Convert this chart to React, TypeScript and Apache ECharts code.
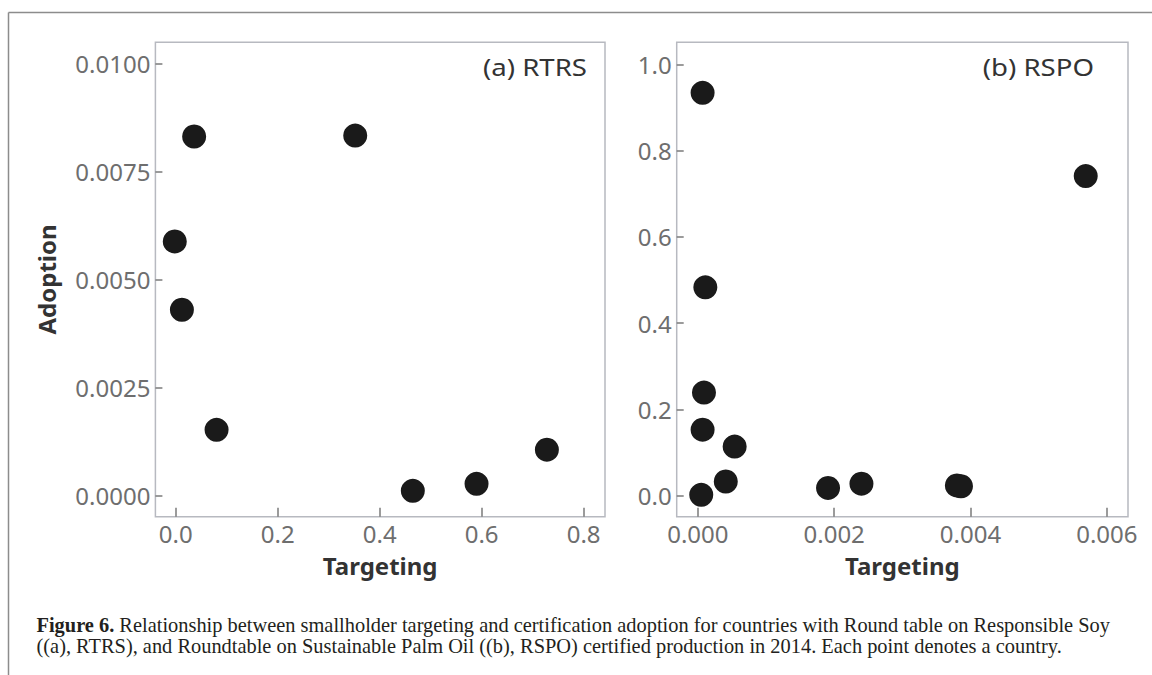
import React, { useEffect, useRef } from "react";
import * as echarts from "echarts";

// ---- data ----
const rtrsTargeting = [0.036, 0.352, -0.002, 0.012, 0.08, 0.465, 0.59, 0.728];
const rtrsAdoption = [0.00832, 0.00834, 0.00589, 0.00431, 0.00153, 0.00012, 0.00028, 0.00107];

const rspoTargeting = [0.00007, 0.00569, 0.00011, 0.00009, 0.00007, 0.00054, 0.00041, 0.00005, 0.00191, 0.0024, 0.0038, 0.00386];
const rspoAdoption = [0.934, 0.741, 0.483, 0.239, 0.153, 0.114, 0.033, 0.002, 0.018, 0.028, 0.024, 0.022];

const rtrsXTicks = [0, 0.2, 0.4, 0.6, 0.8];
const rtrsYTicks = [0, 0.0025, 0.005, 0.0075, 0.01];
const rspoXTicks = [0, 0.002, 0.004, 0.006];
const rspoYTicks = [0, 0.2, 0.4, 0.6, 0.8, 1.0];

const panelTitles = ["(a) RTRS", "(b) RSPO"];
const xName = "Targeting";
const yName = "Adoption";
const captionLine1Bold = "Figure 6.";
const captionLine1 =
  " Relationship between smallholder targeting and certification adoption for countries with Round table on Responsible Soy";
const captionLine2 =
  "((a), RTRS), and Roundtable on Sustainable Palm Oil ((b), RSPO) certified production in 2014. Each point denotes a country.";

const FONT = "'Noto Sans', 'Open Sans', sans-serif";
const SERIF = "'Liberation Serif', serif";
const LABEL_COLOR = "#6e6e6e";
const BOX_COLOR = "#b7b9c0";
const TICK_COLOR = "#7a7a7a";
const DOT_COLOR = "#1a1a1a";

function makeAxis(
  min: number,
  max: number,
  ticks: number[],
  digits: number,
  gridIndex: number,
  tickLen: number,
  extra: any = {}
) {
  return {
    type: "value",
    gridIndex,
    min,
    max,
    axisLine: { show: false, onZero: false },
    splitLine: { show: false },
    axisTick: {
      show: true,
      inside: true,
      length: tickLen,
      customValues: ticks,
      lineStyle: { color: TICK_COLOR, width: 1.5 },
    },
    axisLabel: {
      customValues: ticks,
      formatter: (v: number) => v.toFixed(digits),
      color: LABEL_COLOR,
      fontFamily: FONT,
      fontSize: 24,
      margin: 5,
    },
    nameTextStyle: {
      fontFamily: FONT,
      fontWeight: "bold",
      fontSize: 24,
      color: "#333333",
    },
    ...extra,
  };
}

export default function App() {
  const ref = useRef<HTMLDivElement>(null);

  useEffect(() => {
    if (!ref.current) return;
    const chart = echarts.init(ref.current, undefined, { renderer: "svg" });

    const titleStyle = (text: string) => ({
      text,
      align: "right",
      verticalAlign: "middle",
      fontFamily: FONT,
      fontSize: 23,
      fill: "#333333",
    });

    const option: any = {
      animation: false,
      backgroundColor: "#ffffff",
      grid: [
        {
          left: 155.4,
          top: 42.3,
          width: 449.6,
          height: 474.4,
          show: true,
          borderColor: BOX_COLOR,
          borderWidth: 1.5,
          backgroundColor: "transparent",
        },
        {
          left: 676.7,
          top: 42.3,
          width: 451.3,
          height: 474.4,
          show: true,
          borderColor: BOX_COLOR,
          borderWidth: 1.5,
          backgroundColor: "transparent",
        },
      ],
      xAxis: [
        makeAxis(-0.04, 0.842, rtrsXTicks, 1, 0, 9, {
          name: xName,
          nameLocation: "middle",
          nameGap: 37,
        }),
        makeAxis(-0.00031, 0.00631, rspoXTicks, 3, 1, 9, {
          name: xName,
          nameLocation: "middle",
          nameGap: 37,
        }),
      ],
      yAxis: [
        makeAxis(-0.00048, 0.0105, rtrsYTicks, 4, 0, 7, {
          name: yName,
          nameLocation: "middle",
          nameGap: 97,
        }),
        makeAxis(-0.0486, 1.051, rspoYTicks, 1, 1, 7),
      ],
      series: [
        {
          type: "scatter",
          xAxisIndex: 0,
          yAxisIndex: 0,
          symbol: "circle",
          symbolSize: 24,
          itemStyle: { color: DOT_COLOR, opacity: 1 },
          data: rtrsTargeting.map((x, i) => [x, rtrsAdoption[i]]),
        },
        {
          type: "scatter",
          xAxisIndex: 1,
          yAxisIndex: 1,
          symbol: "circle",
          symbolSize: 24,
          itemStyle: { color: DOT_COLOR, opacity: 1 },
          data: rspoTargeting.map((x, i) => [x, rspoAdoption[i]]),
        },
      ],
      graphic: [
        {
          type: "line",
          shape: { x1: 8.5, y1: 12.5, x2: 1152, y2: 12.5 },
          style: { stroke: "#8c8c8c", lineWidth: 1.5 },
          silent: true,
        },
        {
          type: "line",
          shape: { x1: 8.5, y1: 12.5, x2: 8.5, y2: 675 },
          style: { stroke: "#8c8c8c", lineWidth: 1.5 },
          silent: true,
        },
        {
          type: "text",
          x: 587,
          y: 67,
          scaleX: 1.2,
          style: titleStyle(panelTitles[0]),
        },
        {
          type: "text",
          x: 1094,
          y: 67,
          scaleX: 1.2,
          style: titleStyle(panelTitles[1]),
        },
        {
          type: "text",
          x: 36.5,
          y: 625,
          style: {
            text: "{b|" + captionLine1Bold + "}{n|" + captionLine1 + "}",
            verticalAlign: "middle",
            rich: {
              b: {
                fontFamily: SERIF,
                fontWeight: "bold",
                fontSize: 20.4,
                fill: "#231f20",
              },
              n: {
                fontFamily: SERIF,
                fontSize: 20.4,
                fill: "#231f20",
              },
            },
          },
        },
        {
          type: "text",
          x: 36.5,
          y: 646,
          style: {
            text: captionLine2,
            verticalAlign: "middle",
            fontFamily: SERIF,
            fontSize: 20.4,
            fill: "#231f20",
          },
        },
      ],
    };

    chart.setOption(option);
    return () => chart.dispose();
  }, []);

  return (
    <div
      ref={ref}
      style={{
        position: "absolute",
        left: 0,
        top: 0,
        width: 1152,
        height: 675,
        background: "#ffffff",
      }}
    />
  );
}
